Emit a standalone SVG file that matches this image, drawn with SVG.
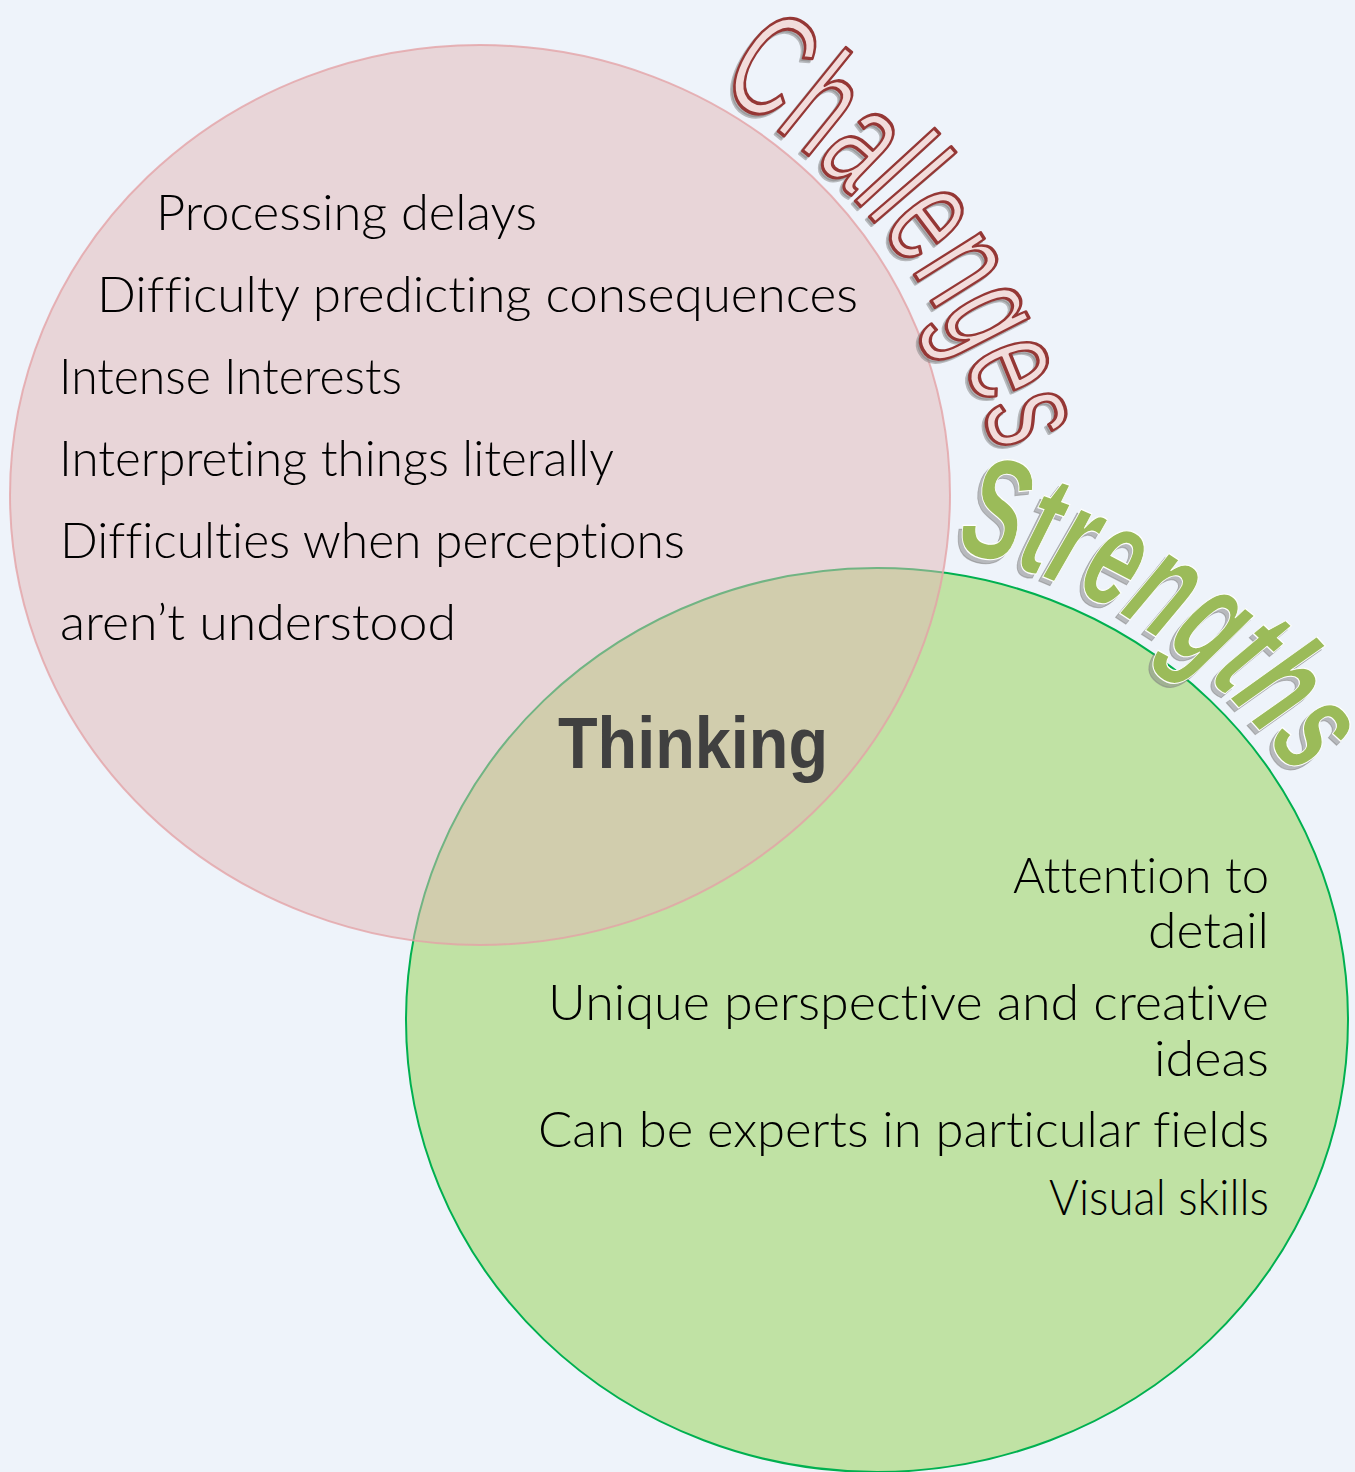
<svg xmlns="http://www.w3.org/2000/svg" width="1355" height="1472" viewBox="0 0 1355 1472">
  <style>
    .item { font-family: Lato, "Liberation Sans", Arial, sans-serif; font-weight: 300; font-size: 49px; fill: #000000; font-variant-ligatures: none; }
    .end { text-anchor: end; }
    .hub { font-family: "Liberation Sans", Arial, sans-serif; font-size: 72px; font-weight: bold; fill: #404040; }
    .art { font-family: "Liberation Sans", Arial, sans-serif; }
    .art-red { font-size: 148px; fill: #F2DCDB; stroke: #953735; stroke-width: 3.5; stroke-linejoin: round; }
    .art-green { font-size: 146px; font-weight: bold; font-style: italic; fill: #9BBB59; stroke: #FFFFFF; stroke-width: 1.2; }
    .art-shadow { fill: #7F7F7F; fill-opacity: 0.5; stroke: #7F7F7F; stroke-opacity: 0.5; }
  </style>
  <defs>
    <!-- baseline arcs for the curved headings -->
    <path id="arcChallenges" d="M 716 90 A 600 600 0 0 1 998 462" fill="none"/>
    <path id="arcStrengths" d="M 955 551 A 545 545 0 0 1 1305 793" fill="none"/>
  </defs>

  <!-- page background -->
  <rect x="0" y="0" width="1355" height="1472" fill="#EEF3FA"/>

  <!-- strengths set (drawn first, sits under the challenges set) -->
  <g id="strengths-set">
    <ellipse cx="877" cy="1020" rx="471" ry="452" fill="#C0E2A4" stroke="#00B050" stroke-width="2"/>
  </g>

  <!-- challenges set, translucent so the overlap shows through -->
  <g id="challenges-set">
    <ellipse cx="480" cy="495" rx="470" ry="450" fill="#E2B7B6" fill-opacity="0.5" stroke="#E3A3A6" stroke-opacity="0.8" stroke-width="2"/>
  </g>

  <!-- challenge items -->
  <g id="challenges-items">
    <text class="item" x="156" y="230" textLength="381" lengthAdjust="spacingAndGlyphs">Processing delays</text>
    <text class="item" x="97" y="312" textLength="761" lengthAdjust="spacingAndGlyphs">Difficulty predicting consequences</text>
    <text class="item" x="59" y="394" textLength="343" lengthAdjust="spacingAndGlyphs">Intense Interests</text>
    <text class="item" x="59" y="476" textLength="555" lengthAdjust="spacingAndGlyphs">Interpreting things literally</text>
    <text class="item" x="60" y="558" textLength="625" lengthAdjust="spacingAndGlyphs">Difficulties when perceptions</text>
    <text class="item" x="60" y="640" textLength="396" lengthAdjust="spacingAndGlyphs">aren’t understood</text>
  </g>

  <!-- strength items, right aligned -->
  <g id="strengths-items">
    <text class="item end" x="1269" y="893" textLength="256" lengthAdjust="spacingAndGlyphs">Attention to</text>
    <text class="item end" x="1269" y="948" textLength="121" lengthAdjust="spacingAndGlyphs">detail</text>
    <text class="item end" x="1269" y="1020" textLength="721" lengthAdjust="spacingAndGlyphs">Unique perspective and creative</text>
    <text class="item end" x="1269" y="1076" textLength="115" lengthAdjust="spacingAndGlyphs">ideas</text>
    <text class="item end" x="1269" y="1147" textLength="731" lengthAdjust="spacingAndGlyphs">Can be experts in particular fields</text>
    <text class="item end" x="1269" y="1215" textLength="220" lengthAdjust="spacingAndGlyphs">Visual skills</text>
  </g>

  <!-- overlap label -->
  <g id="thinking">
    <text class="hub" x="558" y="768" textLength="270" lengthAdjust="spacingAndGlyphs">Thinking</text>
  </g>

  <!-- curved heading: Challenges -->
  <g id="title-challenges">
    <g transform="translate(-3,3)">
      <text class="art art-red art-shadow"><textPath href="#arcChallenges" textLength="470" lengthAdjust="spacingAndGlyphs">Challenges</textPath></text>
    </g>
    <text class="art art-red"><textPath href="#arcChallenges" textLength="470" lengthAdjust="spacingAndGlyphs">Challenges</textPath></text>
  </g>

  <!-- curved heading: Strengths -->
  <g id="title-strengths">
    <g transform="translate(-4,4)">
      <text class="art art-green art-shadow"><textPath href="#arcStrengths" textLength="420" lengthAdjust="spacingAndGlyphs">Strengths</textPath></text>
    </g>
    <text class="art art-green"><textPath href="#arcStrengths" textLength="420" lengthAdjust="spacingAndGlyphs">Strengths</textPath></text>
  </g>
</svg>
